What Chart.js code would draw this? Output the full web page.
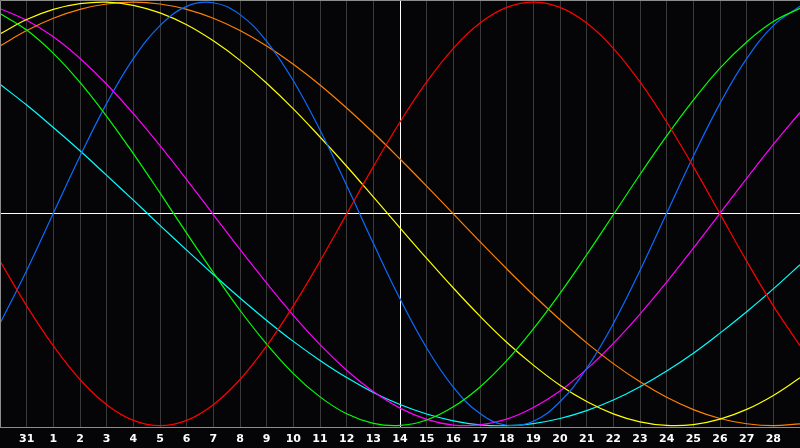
<!DOCTYPE html>
<html>
<head>
<meta charset="utf-8">
<script src="https://cdn.jsdelivr.net/npm/chart.js@4.4.0/dist/chart.umd.min.js"></script>
<style>
    html, body { margin: 0; padding: 0; background: #050508; }
    #canvasContainer { width: 800px; height: 448px; }
</style>
</head>
<body>
<div id="canvasContainer"><canvas id="chart" width="800" height="448"></canvas></div>
<script>
// days shown along the bottom (first and last column are not labelled)
const days = ['30','31','1','2','3','4','5','6','7','8','9','10','11','12','13','14',
    '15','16','17','18','19','20','21','22','23','24','25','26','27','28','29'];

const red = [-22.3,-43.4,-62.3,-78.2,-90.1,-97.5,-100,-97.5,-90.1,-78.2,-62.3,-43.4,-22.3,0,22.3,43.4,
    62.3,78.2,90.1,97.5,100,97.5,90.1,78.2,62.3,43.4,22.3,0,-22.3,-43.4,-62.3];
const green = [94.6,86.8,75.8,62.1,46.1,28.5,9.9,-9.1,-27.7,-45.5,-61.5,-75.4,-86.4,-94.4,-98.9,-99.9,
    -97.3,-91.1,-81.7,-69.3,-54.3,-37.5,-19.3,-0.4,18.6,36.8,53.7,68.8,81.2,90.8,97.1];
const blue = [-51.7,-26.7,0.3,27.2,52.2,73.3,88.9,98.0,99.7,94.1,81.5,62.9,39.6,13.4,-13.9,-40.1,
    -63.3,-81.8,-94.3,-99.8,-97.9,-88.7,-72.9,-51.8,-26.7,0.3,27.2,52.2,73.3,88.9,98.0];
const yellow = [85.0,91.8,96.6,99.3,100,98.5,94.9,89.3,81.7,72.5,61.7,49.6,36.3,22.5,8.0,-6.6,
    -21.0,-35.0,-48.3,-60.6,-71.4,-80.9,-88.6,-94.4,-98.2,-99.9,-99.5,-96.9,-92.3,-85.7,-77.4];
const orange = [79.3,86.6,92.4,96.6,99.1,100,99.1,96.6,92.4,86.6,79.3,70.7,60.9,50,38.3,25.9,
    13.1,0,-13.1,-25.9,-38.3,-50,-60.9,-70.7,-79.3,-86.6,-92.4,-96.6,-99.1,-100,-99.1];
const magenta = [96.9,91.4,83.6,73.4,61.2,47.3,32.2,16.2,-0.3,-16.8,-32.7,-47.9,-61.7,-73.8,-83.9,-91.7,
    -97.0,-99.7,-99.6,-96.9,-91.4,-83.6,-73.3,-61.1,-47.3,-32.2,-16.2,0.3,16.8,32.8,47.9];
const cyan = [61.2,51.4,40.8,29.8,18.2,6.5,-5.4,-17.1,-28.6,-39.7,-50.3,-60.2,-69.2,-77.3,-84.3,-90.0,
    -94.5,-97.7,-99.6,-100,-99.0,-96.6,-92.9,-87.9,-81.6,-74.2,-65.8,-56.3,-46.2,-35.4,-24.0];

const series = [
    { values: red, color: '#ff0000' },
    { values: green, color: '#00ff00' },
    { values: blue, color: '#0a6cff' },
    { values: yellow, color: '#ffff00' },
    { values: orange, color: '#ff8000' },
    { values: magenta, color: '#ff00ff' },
    { values: cyan, color: '#00ffff' }
];

// column of the day marked with the white line ("14")
const today = 15;

function buildDatasets(){
    let datasets = [];
    series.forEach( element => {
        datasets.push({
            data: element.values,
            borderColor: element.color,
            borderWidth: 1.2,
            pointRadius: 0,
            tension: 0.4,
            fill: false
        });
    });
    return datasets;
}

// gray frame on the left and top edge of the plot
const frame = {
    id: 'frame',
    afterDraw: chart => {
        const { ctx, chartArea } = chart;
        ctx.save();
        ctx.strokeStyle = '#8c8c8c';
        ctx.lineWidth = 1;
        ctx.beginPath();
        ctx.moveTo(chartArea.left + 0.5, chartArea.bottom);
        ctx.lineTo(chartArea.left + 0.5, chartArea.top + 0.5);
        ctx.lineTo(chartArea.right, chartArea.top + 0.5);
        ctx.stroke();
        ctx.restore();
    }
};

function drawChart(){
    const ctx = document.getElementById('chart');
    const chart = new Chart(ctx, {
        type: 'line',
        data: { labels: days, datasets: buildDatasets() },
        plugins: [frame],
        options: {
            responsive: false,
            animation: false,
            devicePixelRatio: 1,
            layout: { padding: { left: 0, right: 0, top: 0, bottom: -3 } },
            plugins: { legend: { display: false }, tooltip: { enabled: false } },
            scales: {
                x: {
                    offset: false,
                    border: { display: true, color: '#8c8c8c', width: 1 },
                    grid: {
                        drawTicks: false,
                        lineWidth: 1,
                        color: c => {
                            const v = c.tick ? c.tick.value : -1;
                            if (v === today) return '#ffffff';
                            return '#3a3a3a';
                        }
                    },
                    ticks: {
                        autoSkip: false,
                        maxRotation: 0,
                        padding: 5,
                        color: '#ffffff',
                        font: { family: 'DejaVu Sans', size: 11, weight: 'bold' },
                        callback: (value, index) => (index === 0 || index === days.length - 1) ? null : days[index]
                    }
                },
                y: {
                    min: -101,
                    max: 101,
                    border: { display: false },
                    grid: {
                        drawTicks: false,
                        lineWidth: 1,
                        color: c => c.tick.value === 0 ? '#ffffff' : 'rgba(0,0,0,0)'
                    },
                    ticks: { display: false, stepSize: 101 }
                }
            }
        }
    });
    return chart;
}

drawChart();
</script>
</body>
</html>
